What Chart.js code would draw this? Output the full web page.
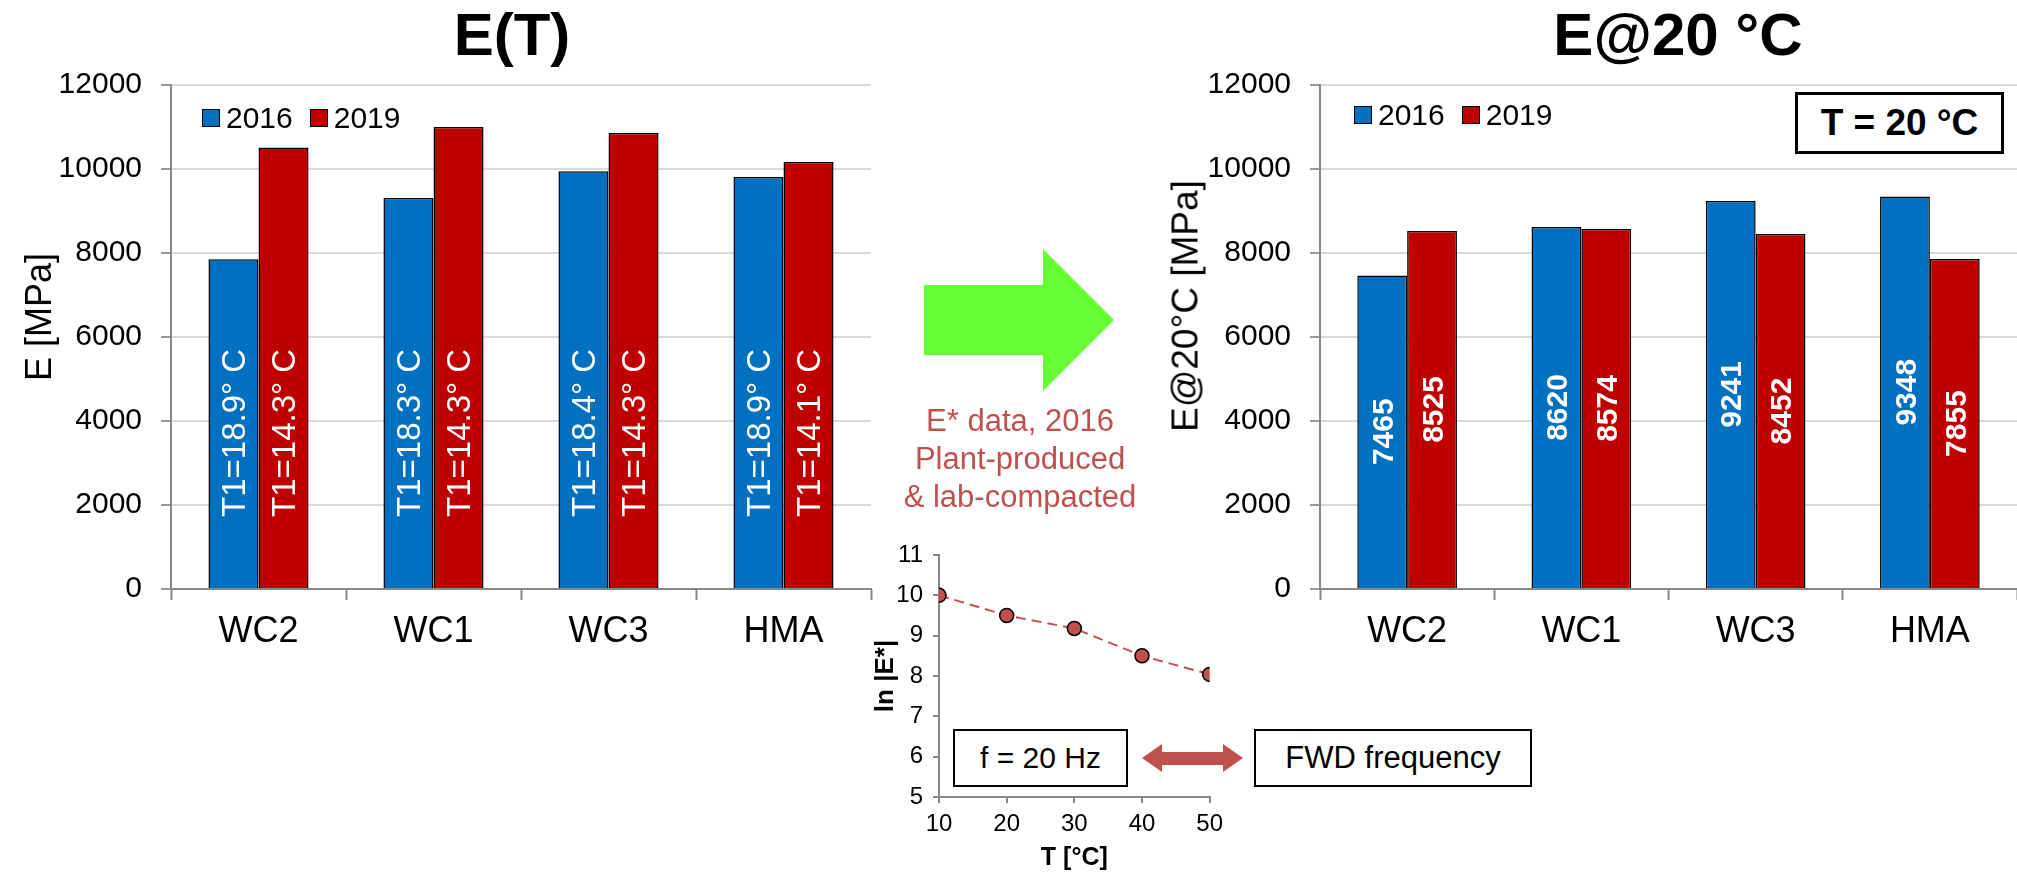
<!DOCTYPE html>
<html>
<head>
<meta charset="utf-8">
<script src="https://cdn.jsdelivr.net/npm/chart.js"></script>
<style>
  body { margin: 0; background: #fff; font-family: "Liberation Sans", Arial, sans-serif; }
  #page { position: relative; width: 2017px; height: 873px; overflow: hidden; }
  .box { position: absolute; }
  .txt { position: absolute; white-space: nowrap; color: #000; }
  .rot { transform: translate(-50%, -50%) rotate(-90deg); line-height: 1; }
  .legend { position: absolute; display: flex; align-items: center; font-size: 30px; height: 36px; }
  .legend span.sw { display: inline-block; width: 16px; height: 16px; border: 1px solid #000; margin-right: 6px; }
  .legend span.lb { margin-right: 17px; }
  .frame { position: absolute; box-sizing: border-box; border: 2px solid #000; background: #fff;
           display: flex; align-items: center; justify-content: center; z-index: 5; }
</style>
</head>
<body>
<div id="page">
  <div class="box" style="left:0;top:0;width:880px;height:700px"><canvas id="chart-et"></canvas></div>
  <div class="box" style="left:1150px;top:0;width:867px;height:700px"><canvas id="chart-e20"></canvas></div>
  <div class="box" style="left:850px;top:520px;width:380px;height:353px"><canvas id="chart-lne"></canvas></div>

  <div class="txt" style="left:512px;top:5px;transform:translateX(-50%);font-size:60px;line-height:60px;font-weight:bold">E(T)</div>
  <div class="txt" style="left:1678px;top:5px;transform:translateX(-50%);font-size:60px;line-height:60px;font-weight:bold">E@20 °C</div>
  <div class="txt rot" style="left:39px;top:317px;font-size:36px">E [MPa]</div>
  <div class="txt rot" style="left:1185px;top:306px;font-size:37px">E@20°C [MPa]</div>

  <div class="legend" id="legend-et" style="left:202px;top:100px"></div>
  <div class="legend" id="legend-e20" style="left:1354px;top:97px"></div>

  <div class="frame" style="left:1795px;top:92px;width:209px;height:62px;border-width:3px;font-size:37px;font-weight:bold">T = 20 °C</div>

  <svg class="box" style="left:0;top:0" width="2017" height="873">
    <polygon points="924,285 1043,285 1043,249 1114,320 1043,391 1043,355 924,355" fill="#66FF33"/>
    <polygon points="1142,758 1162,744 1162,752 1223,752 1223,744 1243,758 1223,772 1223,765 1162,765 1162,772" fill="#C0504D"/>
  </svg>

  <div class="txt" style="left:1020px;top:402px;transform:translateX(-50%);font-size:31px;line-height:38px;color:#C0504D;text-align:center">
    E* data, 2016<br>Plant-produced<br>&amp; lab-compacted
  </div>

  <div class="frame" style="left:953px;top:729px;width:175px;height:58px;font-size:30px">f = 20 Hz</div>
  <div class="frame" style="left:1254px;top:729px;width:278px;height:58px;font-size:31px">FWD frequency</div>
</div>

<script>
// Data
const categories = ["WC2", "WC1", "WC3", "HMA"];
const seriesNames = ["2016", "2019"];
const seriesColors = ["#0070C0", "#C00000"];

// E(T) at test temperature
const eT2016 = [7850, 9310, 9945, 9810];
const eT2019 = [10510, 11000, 10860, 10167];
const t1Labels2016 = ["T1=18.9° C", "T1=18.3° C", "T1=18.4° C", "T1=18.9° C"];
const t1Labels2019 = ["T1=14.3° C", "T1=14.3° C", "T1=14.3° C", "T1=14.1° C"];

// E corrected to 20 °C
const e20_2016 = [7465, 8620, 9241, 9348];
const e20_2019 = [8525, 8574, 8452, 7855];

// ln|E*| master curve points
const tempC = [10, 20, 30, 40, 50];
const lnE = [10.0, 9.5, 9.18, 8.5, 8.04];

Chart.defaults.font.family = "'Liberation Sans', Arial, sans-serif";
Chart.defaults.color = "#000";

// draws the rotated white labels inside the bars
const barText = {
  id: "barText",
  afterDatasetsDraw(chart, args, opts) {
    const ctx = chart.ctx;
    chart.data.datasets.forEach((ds, i) => {
      chart.getDatasetMeta(i).data.forEach((bar, j) => {
        ctx.save();
        ctx.font = opts.font;
        ctx.fillStyle = "#fff";
        ctx.textBaseline = "alphabetic";
        if (opts.mode === "base") {
          ctx.translate(bar.x, bar.base - opts.offset);
          ctx.textAlign = "left";
        } else {
          ctx.translate(bar.x, (bar.y + bar.base) / 2);
          ctx.textAlign = "center";
        }
        ctx.rotate(-Math.PI / 2);
        ctx.fillText(opts.texts[i][j], 0, opts.size * 0.358);
        ctx.restore();
      });
    });
  },
};

function barOptions(yWidth, padRight, labelOpts) {
  return {
    responsive: true,
    maintainAspectRatio: false,
    animation: false,
    layout: { padding: { left: 0, top: 85, right: padRight, bottom: 0 } },
    plugins: { legend: { display: false }, tooltip: { enabled: false }, barText: labelOpts },
    scales: {
      x: {
        afterFit: (s) => { s.height = 111; },
        grid: { offset: true, drawOnChartArea: false, drawTicks: true, tickLength: 11, tickColor: "#888", tickWidth: 2 },
        border: { display: true, color: "#888", width: 2 },
        ticks: { font: { size: 36 }, padding: 10 },
      },
      y: {
        min: 0,
        max: 12000,
        afterFit: (s) => { s.width = yWidth; },
        ticks: { stepSize: 2000, font: { size: 30 }, padding: 19, callback: (v) => String(v) },
        grid: { color: "#d9d9d9", lineWidth: 2, tickLength: 10, tickColor: "#999", tickWidth: 2 },
        border: { display: true, color: "#888", width: 2 },
      },
    },
  };
}

function barDatasets(a, b) {
  return [a, b].map((vals, i) => ({
    label: seriesNames[i],
    data: vals,
    backgroundColor: seriesColors[i],
    borderColor: "#000",
    borderWidth: 1.5,
    categoryPercentage: 0.572,
    barPercentage: 1.0,
  }));
}

// E(T)
new Chart(document.getElementById("chart-et"), {
  type: "bar",
  data: { labels: categories, datasets: barDatasets(eT2016, eT2019) },
  options: barOptions(171, 9, {
    mode: "base", offset: 71, size: 33, font: "33px 'Liberation Sans', Arial, sans-serif",
    texts: [t1Labels2016, t1Labels2019],
  }),
  plugins: [barText],
});

// E@20 °C
new Chart(document.getElementById("chart-e20"), {
  type: "bar",
  data: { labels: categories, datasets: barDatasets(e20_2016, e20_2019) },
  options: barOptions(170, 0, {
    mode: "center", size: 30, font: "bold 30px 'Liberation Sans', Arial, sans-serif",
    texts: [e20_2016.map(String), e20_2019.map(String)],
  }),
  plugins: [barText],
});

// ln|E*| vs T
new Chart(document.getElementById("chart-lne"), {
  type: "line",
  data: {
    labels: tempC,
    datasets: [{
      data: tempC.map((t, i) => ({ x: t, y: lnE[i] })),
      borderColor: "#C0504D",
      borderWidth: 2,
      borderDash: [10, 6],
      pointRadius: 7,
      pointBackgroundColor: "#C0504D",
      pointBorderColor: "#000",
      pointBorderWidth: 1.5,
    }],
  },
  options: {
    responsive: true,
    maintainAspectRatio: false,
    animation: false,
    layout: { padding: { left: 0, top: 35, right: 18, bottom: 0 } },
    plugins: { legend: { display: false }, tooltip: { enabled: false } },
    scales: {
      x: {
        type: "linear", min: 10, max: 50,
        afterFit: (s) => { s.height = 76; },
        ticks: { stepSize: 10, font: { size: 24 }, padding: 7 },
        grid: { drawOnChartArea: false, tickLength: 6, color: "#888", lineWidth: 2 },
        border: { display: true, color: "#888", width: 2 },
        title: { display: true, text: "T [°C]", font: { size: 25, weight: "bold" }, padding: { top: 0, bottom: 0 } },
      },
      y: {
        min: 5, max: 11,
        afterFit: (s) => { s.width = 89; },
        ticks: { stepSize: 1, font: { size: 24 }, padding: 10 },
        grid: { drawOnChartArea: false, tickLength: 6, color: "#888", lineWidth: 2 },
        border: { display: true, color: "#888", width: 2 },
        title: { display: true, text: "ln |E*|", font: { size: 26, weight: "bold" }, padding: { top: 20, bottom: 0 } },
      },
    },
  },
});

// legends inside the plot areas
["legend-et", "legend-e20"].forEach((id) => {
  const el = document.getElementById(id);
  seriesNames.forEach((name, i) => {
    const sw = document.createElement("span");
    sw.className = "sw";
    sw.style.background = seriesColors[i];
    const lb = document.createElement("span");
    lb.className = "lb";
    lb.textContent = name;
    el.appendChild(sw);
    el.appendChild(lb);
  });
});
</script>
</body>
</html>
